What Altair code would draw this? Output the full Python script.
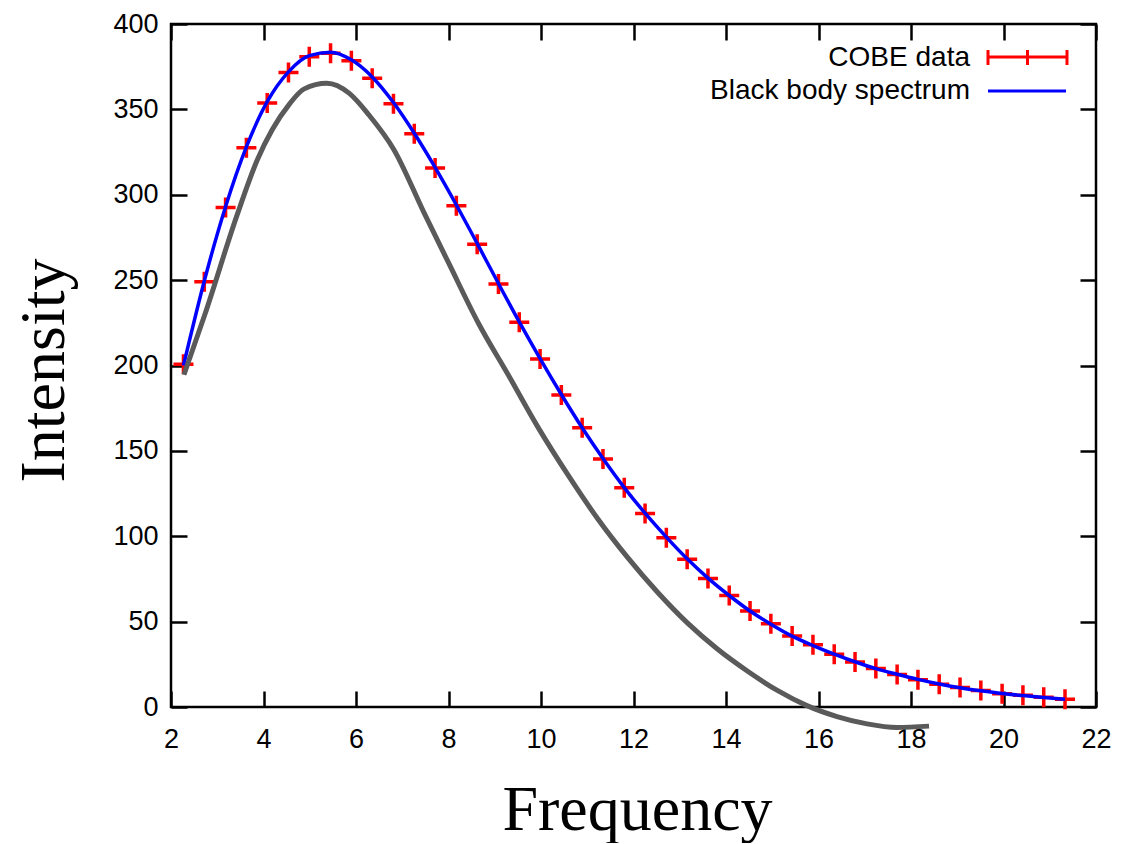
import altair as alt
import pandas as pd

# ---- data ----
freq = [2.27, 2.72, 3.18, 3.63, 4.08, 4.54, 4.99, 5.45, 5.90, 6.35, 6.81, 7.26,
        7.71, 8.17, 8.62, 9.08, 9.53, 9.98, 10.44, 10.89, 11.34, 11.80, 12.25,
        12.71, 13.16, 13.61, 14.07, 14.52, 14.97, 15.43, 15.88, 16.34, 16.79,
        17.24, 17.70, 18.15, 18.61, 19.06, 19.51, 19.97, 20.42, 20.87, 21.33]
cobe = [200.8, 249.0, 292.5, 327.5, 353.8, 371.6, 380.8, 382.8, 378.5, 368.3,
        353.3, 335.7, 315.6, 293.5, 271.0, 247.8, 225.3, 203.8, 182.7, 163.5,
        145.2, 128.4, 113.3, 99.1, 86.6, 75.3, 65.3, 56.2, 48.8, 41.6, 36.4,
        30.9, 26.4, 22.5, 19.0, 16.0, 13.3, 11.4, 9.6, 7.8, 6.9, 5.7, 4.5]
blackbody = [200.0, 249.5, 293.0, 328.0, 354.5, 372.0, 381.5, 383.5, 379.0, 369.0,
             354.0, 336.0, 316.0, 294.0, 271.5, 248.0, 225.5, 204.0, 183.0, 163.5,
             145.5, 128.5, 113.5, 99.5, 86.8, 75.5, 65.3, 56.2, 48.5, 41.5, 36.0,
             31.0, 26.5, 22.5, 19.2, 16.2, 13.5, 11.3, 9.5, 7.9, 6.7, 5.6, 4.6]
gray_f = [2.28, 2.73, 3.43, 3.86, 4.56, 4.88, 5.37, 5.85, 6.28, 6.82, 7.47, 8.00,
          8.65, 9.30, 9.94, 10.59, 11.23, 11.88, 12.53, 13.17, 13.82, 14.46,
          15.11, 15.75, 16.40, 17.05, 17.69, 18.39]
gray_i = [194.6, 229.7, 288.2, 320.0, 353.1, 362.0, 365.3, 359.5, 346.7, 326.4,
          289.5, 260.2, 224.6, 194.1, 163.6, 135.6, 110.1, 87.3, 66.9, 49.1,
          33.8, 21.1, 9.7, 0.8, -5.6, -9.9, -12.0, -11.2]
x_ticks = [2, 4, 6, 8, 10, 12, 14, 16, 18, 20, 22]
y_ticks = [0, 50, 100, 150, 200, 250, 300, 350, 400]
legend_labels = ["COBE data", "Black body spectrum"]

df_cobe = pd.DataFrame({"f": freq, "I": cobe})
df_bb = pd.DataFrame({"f": freq, "I": blackbody})
df_gray = pd.DataFrame({"f": gray_f, "I": gray_i})

W, H = 925, 683
SANS = "Liberation Sans"
SERIF = "Liberation Serif"

xs = alt.Scale(domain=[2, 22], nice=False, zero=False)
ys = alt.Scale(domain=[0, 400], nice=False, zero=False)

common = dict(domain=False, grid=False, ticks=True, tickSize=16, tickWidth=2.5,
              tickColor="black", offset=-16, labelFlush=False, labelOverlap=False,
              labelBound=False)

x_bottom = alt.Axis(values=x_ticks, orient="bottom", labelFont=SANS, labelFontSize=27,
                    labelColor="black", labelPadding=19, title="Frequency",
                    titleFont=SERIF, titleFontSize=64, titleFontWeight="normal",
                    titleColor="black", titleX=466, titleY=138,
                    titleBaseline="alphabetic", titleAlign="center", **common)
y_left = alt.Axis(values=y_ticks, orient="left", labelFont=SANS, labelFontSize=27,
                  labelColor="black", labelPadding=13, title="Intensity",
                  titleFont=SERIF, titleFontSize=64, titleFontWeight="normal",
                  titleColor="black", titleX=-124, titleY=346, titleAngle=270,
                  titleBaseline="alphabetic", titleAlign="center", **common)
x_top = alt.Axis(values=x_ticks, orient="top", labels=False, title=None, **common)
y_right = alt.Axis(values=y_ticks, orient="right", labels=False, title=None, **common)

crosses = alt.Chart(df_cobe).mark_point(
    shape="M-1,0H1M0,-1V1", size=400, filled=False, strokeWidth=3.5,
    color="#ff0000", opacity=1
).encode(
    x=alt.X("f:Q", scale=xs, axis=x_bottom),
    y=alt.Y("I:Q", scale=ys, axis=y_left),
)

blue = alt.Chart(df_bb).mark_line(color="#0000ff", strokeWidth=3.5, interpolate="monotone").encode(
    x=alt.X("f:Q", scale=xs, axis=None),
    y=alt.Y("I:Q", scale=ys, axis=None),
)

gray = alt.Chart(df_gray).mark_line(color="#5a5a5a", strokeWidth=5, interpolate="monotone",
                                    clip=False).encode(
    x=alt.X("f:Q", scale=xs, axis=x_top),
    y=alt.Y("I:Q", scale=ys, axis=y_right),
)

# ---- legend (drawn by hand, gnuplot style) ----
one = pd.DataFrame({"k": [0]})
leg_text = alt.Chart(pd.DataFrame({"label": legend_labels, "yy": [34, 67]})).mark_text(
    align="right", baseline="middle", font=SANS, fontSize=28, color="black"
).encode(text="label:N", x=alt.value(799), y=alt.Y("yy:Q", scale=None))

red_line = alt.Chart(one).mark_rule(color="#ff0000", strokeWidth=3).encode(
    x=alt.value(817), x2=alt.value(896), y=alt.value(33))
red_cap1 = alt.Chart(one).mark_rule(color="#ff0000", strokeWidth=3).encode(
    x=alt.value(817), y=alt.value(26), y2=alt.value(41))
red_cap2 = alt.Chart(one).mark_rule(color="#ff0000", strokeWidth=3).encode(
    x=alt.value(896), y=alt.value(26), y2=alt.value(41))
red_mid = alt.Chart(one).mark_rule(color="#ff0000", strokeWidth=3).encode(
    x=alt.value(856.5), y=alt.value(26), y2=alt.value(41))
blue_leg = alt.Chart(one).mark_rule(color="#0000ff", strokeWidth=3).encode(
    x=alt.value(817), x2=alt.value(895), y=alt.value(67))

chart = alt.layer(
    crosses, blue, gray, leg_text, red_line, red_cap1, red_cap2, red_mid, blue_leg
).resolve_axis(x="independent", y="independent").properties(
    width=W, height=H,
    autosize=alt.AutoSizeParams(type="none"),
    padding={"left": 163, "top": 16, "right": 30, "bottom": 136},
    background="white",
).configure_view(stroke="black", strokeWidth=2.5)

chart.save("out.html", embed_options={"renderer": "svg", "actions": False})
